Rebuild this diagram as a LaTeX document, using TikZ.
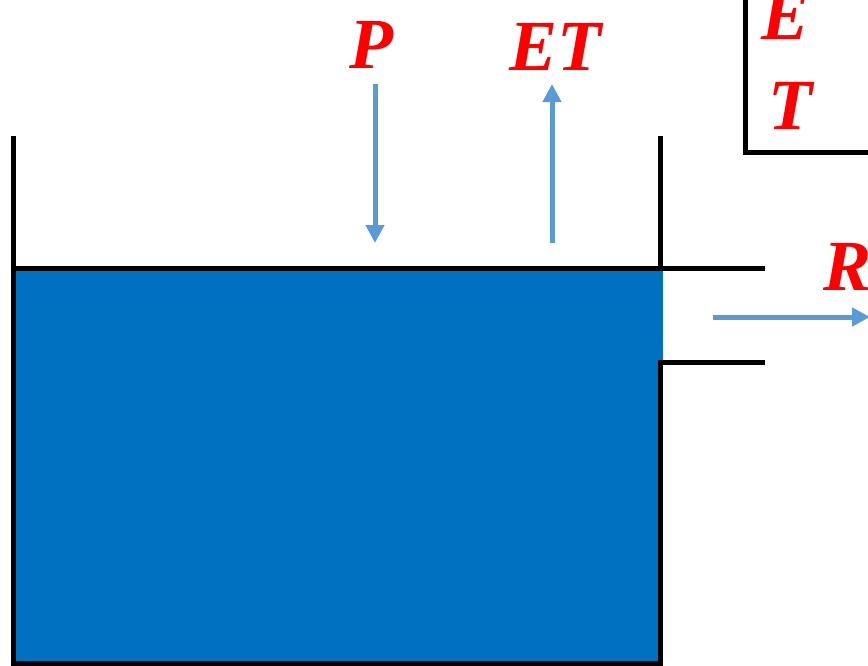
\documentclass[tikz,border=0pt]{standalone}
\usepackage{fontspec}
\setmainfont{Liberation Serif}
\usetikzlibrary{arrows.meta}
\definecolor{water}{HTML}{0070C0}
\definecolor{flow}{HTML}{5B9BD5}
\tikzset{
  wall/.style={line width=5pt, black},
  flux/.style={line width=5pt, flow, -{Triangle[width=18pt,length=18pt]}},
  sym/.style={text=red, font=\fontsize{72}{72}\selectfont\bfseries\itshape, anchor=base, inner sep=0pt},
}
\begin{document}
\begin{tikzpicture}[x=1pt, y=-1pt]
\useasboundingbox (0,0) rectangle (868,665);
% water body
\fill[water] (13,268) rectangle (663,663);
% tank walls and bottom
\draw[wall, line cap=rect] (13,138) -- (13,663) -- (660,663) -- (660,362);
\draw[wall, line cap=rect] (660,138) -- (660,268);
% water surface continuing into the outlet pipe
\draw[wall] (13,268) -- (765,268);
\draw[wall] (660,362) -- (765,362);
% legend box corner
\draw[wall] (745,-10) -- (745,152) -- (880,152);
% labels
\node[sym] (P) at (371,68) {P};
\node[sym] (ET) at (555,70) {ET};
\node[sym] (E) at (786,39) {E};
\node[sym] (T) at (790,129) {T};
\node[sym, anchor=base west] (R) at (823,290) {R};
% fluxes
\coordinate (p1) at (375,84);
\coordinate (p2) at (375,243);
\coordinate (e1) at (552,243);
\coordinate (e2) at (552,84);
\coordinate (r1) at (713,317);
\coordinate (r2) at (870,317);
\draw[flux] (p1) -- (p2);
\draw[flux] (e1) -- (e2);
\draw[flux] (r1) -- (r2);
\end{tikzpicture}
\end{document}
